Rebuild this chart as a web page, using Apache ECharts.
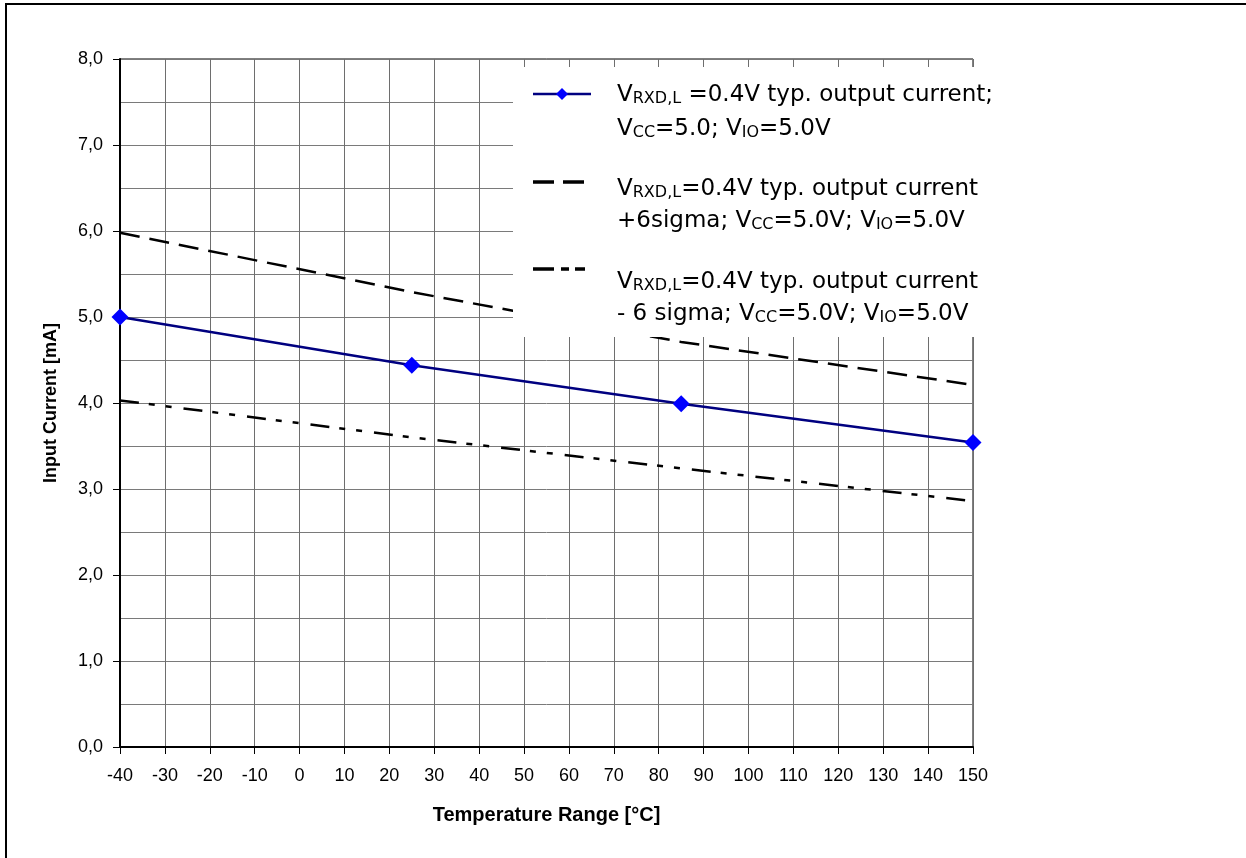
<!DOCTYPE html>
<html>
<head>
<meta charset="utf-8">
<script src="https://cdn.jsdelivr.net/npm/echarts@6/dist/echarts.min.js"></script>
<style>
  html, body { margin: 0; padding: 0; background: #fff; }
  #chart { width: 1246px; height: 858px; }
</style>
</head>
<body>
<div id="chart"></div>
<script>
// Temperature points (°C) where each curve was characterised
const temperatures = [-40, 25, 85, 150];
// RXD low-level output current (mA)
const typical = [5.0, 4.44, 3.99, 3.54];
const plus6Sigma = [5.98, 5.29, 4.71, 4.21];
const minus6Sigma = [4.03, 3.60, 3.24, 2.86];

const xName = 'Temperature Range [°C]';
const yName = 'Input Current [mA]';

// Legend entries: two lines each, with V subscripts as rich-text tokens
const legendLines = [
  ['{n|V}{s|RXD,L}{n| =0.4V typ. output current;}', '{n|V}{s|CC}{n|=5.0; V}{s|IO}{n|=5.0V}'],
  ['{n|V}{s|RXD,L}{n|=0.4V typ. output current}', '{n|+6sigma; V}{s|CC}{n|=5.0V; V}{s|IO}{n|=5.0V}'],
  ['{n|V}{s|RXD,L}{n|=0.4V typ. output current}', '{n|- 6 sigma; V}{s|CC}{n|=5.0V; V}{s|IO}{n|=5.0V}']
];

const pairs = arr => temperatures.map((t, i) => [t, arr[i]]);

const chart = echarts.init(document.getElementById('chart'), null, { renderer: 'canvas' });

const axisFont = 'Liberation Sans, Arial, sans-serif';
const legendFont = 'DejaVu Sans, Verdana, sans-serif';
const DASH = [20, 10];
const DASH_DOT_DOT = [19, 10, 6, 11, 6, 12];

const rich = {
  n: { fontFamily: legendFont, fontSize: 23, color: '#000', verticalAlign: 'middle' },
  s: { fontFamily: legendFont, fontSize: 16, color: '#000', verticalAlign: 'bottom' }
};

const legendX = 617;
const lineCentres = [[95, 129], [189, 221], [282, 314]];
const sampleY = [94, 182, 269];

const graphics = [
  // page frame (left and top edges)
  { type: 'line', z: 200, shape: { x1: 6, y1: 4, x2: 6, y2: 858 }, style: { stroke: '#000', lineWidth: 2 } },
  { type: 'line', z: 200, shape: { x1: 5, y1: 4, x2: 1246, y2: 4 }, style: { stroke: '#000', lineWidth: 2 } },
  // legend panel
  { type: 'rect', z: 100, shape: { x: 513, y: 67, width: 487, height: 270 }, style: { fill: '#fff' } },
  // legend samples
  { type: 'line', z: 101, shape: { x1: 533, y1: sampleY[0], x2: 591, y2: sampleY[0] }, style: { stroke: '#000080', lineWidth: 2.5 } },
  { type: 'polygon', z: 102, shape: { points: [[562, sampleY[0] - 6], [568, sampleY[0]], [562, sampleY[0] + 6], [556, sampleY[0]]] }, style: { fill: '#0000ff' } },
  { type: 'line', z: 101, shape: { x1: 533, y1: sampleY[1], x2: 584, y2: sampleY[1] }, style: { stroke: '#000', lineWidth: 3.5, lineDash: [21, 9] } },
  { type: 'line', z: 101, shape: { x1: 533, y1: sampleY[2], x2: 588, y2: sampleY[2] }, style: { stroke: '#000', lineWidth: 3.5, lineDash: [21, 7, 8, 6, 10, 20] } }
];

legendLines.forEach((entry, i) => {
  entry.forEach((txt, j) => {
    graphics.push({
      type: 'text', z: 101,
      style: {
        x: legendX, y: lineCentres[i][j],
        text: txt, rich: rich,
        fontFamily: legendFont, fontSize: 23,
        verticalAlign: 'middle', align: 'left', fill: '#000'
      }
    });
  });
});

const option = {
  backgroundColor: '#fff',
  animation: false,
  grid: {
    left: 120, right: 273, top: 59, bottom: 111,
    show: true, borderColor: '#000', borderWidth: 1, backgroundColor: 'transparent'
  },
  xAxis: {
    type: 'value',
    min: -40, max: 150, interval: 10,
    name: xName, nameLocation: 'middle', nameGap: 58,
    nameTextStyle: { fontFamily: axisFont, fontSize: 20, fontWeight: 'bold', color: '#000' },
    axisLine: { show: true, onZero: false, lineStyle: { color: '#000', width: 2 } },
    axisTick: { show: true, length: 7, lineStyle: { color: '#000', width: 1 } },
    axisLabel: { margin: 20, fontFamily: axisFont, fontSize: 18, color: '#000' },
    splitLine: { show: true, lineStyle: { color: '#6e6e6e', width: 1 } }
  },
  yAxis: {
    type: 'value',
    min: 0, max: 8, interval: 1,
    name: yName, nameLocation: 'middle', nameGap: 60,
    nameTextStyle: { fontFamily: axisFont, fontSize: 18, fontWeight: 'bold', color: '#000' },
    axisLine: { show: true, onZero: false, lineStyle: { color: '#000', width: 2 } },
    axisTick: { show: true, length: 7, lineStyle: { color: '#000', width: 1 } },
    axisLabel: {
      margin: 17, fontFamily: axisFont, fontSize: 18, color: '#000',
      formatter: v => v.toFixed(1).replace('.', ',')
    },
    splitLine: { show: true, lineStyle: { color: '#7a7a7a', width: 1 } },
    minorTick: { show: false, splitNumber: 2 },
    minorSplitLine: { show: true, lineStyle: { color: '#7a7a7a', width: 1 } }
  },
  series: [
    {
      name: 'typical',
      type: 'line',
      data: pairs(typical),
      symbol: 'diamond', symbolSize: 17,
      itemStyle: { color: '#0000ff' },
      lineStyle: { color: '#000080', width: 2.5 },
      z: 5
    },
    {
      name: '+6sigma',
      type: 'line',
      data: pairs(plus6Sigma),
      showSymbol: false, symbol: 'none',
      lineStyle: { color: '#000', width: 2.5, type: DASH },
      z: 4
    },
    {
      name: '-6sigma',
      type: 'line',
      data: pairs(minus6Sigma),
      showSymbol: false, symbol: 'none',
      lineStyle: { color: '#000', width: 2.5, type: DASH_DOT_DOT },
      z: 4
    }
  ],
  graphic: graphics
};

chart.setOption(option);
</script>
</body>
</html>
